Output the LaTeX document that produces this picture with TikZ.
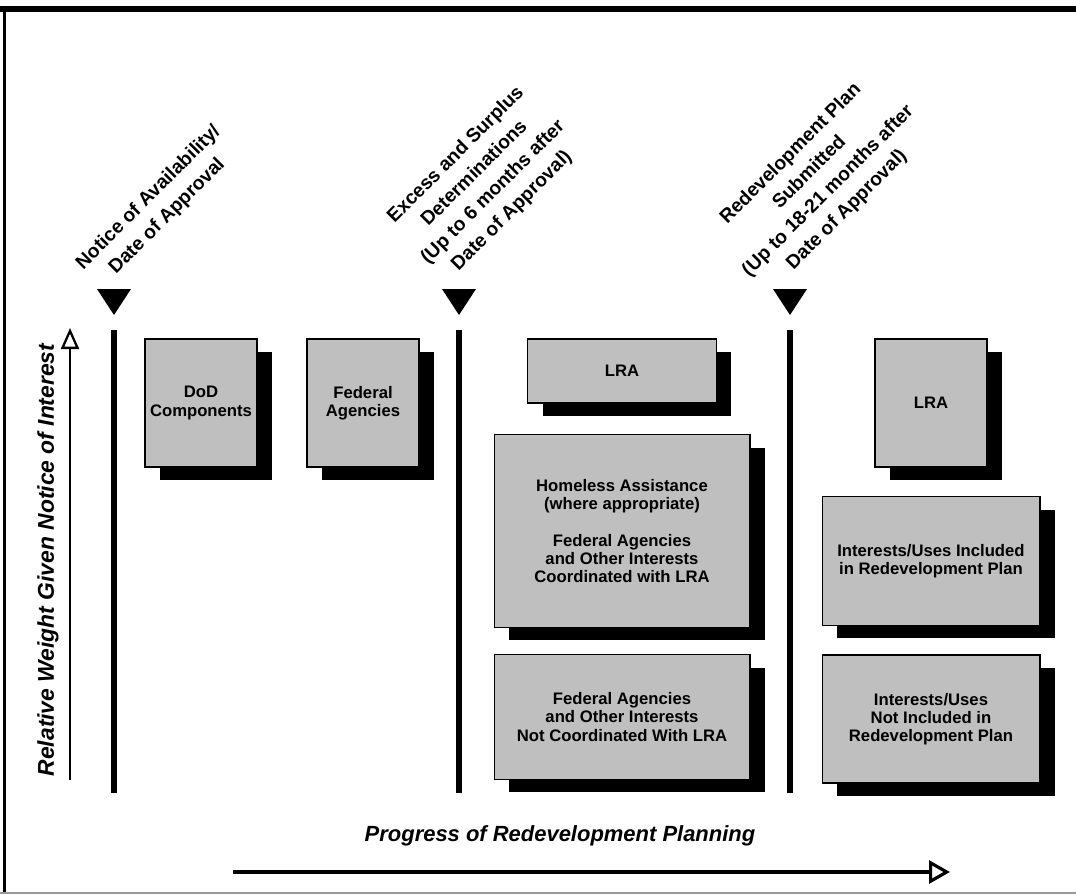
\documentclass[tikz,border=0pt]{standalone}
\usepackage{fontspec}
\setmainfont{Liberation Sans}
\usetikzlibrary{arrows.meta,shadows}

\begin{document}
\begin{tikzpicture}[x=0.02cm,y=-0.02cm,
    plan_box/.style={draw=black,line width=0.6pt,fill=black!25,align=center,inner sep=2pt,
        font=\fontsize{9.5}{10.3}\selectfont\bfseries,
        drop shadow={shadow xshift=0.3cm,shadow yshift=-0.26cm,fill=black,opacity=1}},
    mile_line/.style={line width=3.4pt},
    mile_text/.style={rotate=45,align=center,font=\fontsize{11}{15}\selectfont\bfseries,
        execute at begin node={\setlength{\baselineskip}{15pt}}},
    axis_text/.style={font=\fontsize{12.5}{14}\selectfont\bfseries\itshape}]

    \useasboundingbox (0,0) rectangle (1076,894);

    % frame
    \draw[line width=3.4pt] (0,9) -- (1076,9);
    \draw[line width=2.2pt] (4.5,7) -- (4.5,894);
    \draw[black!40,line width=0.6pt] (0,893) -- (1076,893);

    % milestones
    \foreach \x/\n in {114/1,459/2,790/3} {
        \coordinate (top\n) at (\x,330);
        \coordinate (bot\n) at (\x,793);
        \draw[mile_line] (top\n) -- (bot\n);
        \fill (\x-17,289) -- (\x+17,289) -- (\x,315) -- cycle;
    }

    \node[mile_text] (notice) at (158,207) {Notice of Availability/\\Date of Approval};
    \node[mile_text] (excess) at (484,183) {Excess and Surplus\\Determinations\\(Up to 6 months after\\Date of Approval)};
    \node[mile_text] (submit) at (819,182) {Redevelopment Plan\\Submitted\\(Up to 18-21 months after\\Date of Approval)};

    % interests
    \node[plan_box,minimum width=2.24cm,minimum height=2.56cm] (dod) at (201,403) {DoD\\Components};
    \node[plan_box,minimum width=2.24cm,minimum height=2.56cm] (fed) at (363,403) {Federal\\Agencies};

    \node[plan_box,minimum width=3.78cm,minimum height=1.28cm] (lra1) at (622,371) {LRA};
    \node[plan_box,minimum width=5.12cm,minimum height=3.86cm] (homeless) at (622,531) {Homeless Assistance\\(where appropriate)\\[10.3pt]Federal Agencies\\and Other Interests\\Coordinated with LRA};
    \node[plan_box,minimum width=5.12cm,minimum height=2.5cm] (notcoord) at (622,717) {Federal Agencies\\and Other Interests\\Not Coordinated With LRA};

    \node[plan_box,minimum width=2.24cm,minimum height=2.56cm] (lra2) at (931,403) {LRA};
    \node[plan_box,minimum width=4.36cm,minimum height=2.58cm] (incl) at (931,561) {Interests/Uses Included\\in Redevelopment Plan};
    \node[plan_box,minimum width=4.36cm,minimum height=2.56cm] (notincl) at (931,719) {Interests/Uses\\Not Included in\\Redevelopment Plan};

    % axes
    \coordinate (ybot) at (70,780);
    \coordinate (ytop) at (70,328);
    \draw[line width=1.3pt,-{Triangle[open,length=0.42cm,width=0.36cm]}] (ybot) -- (ytop);
    \node[axis_text,rotate=90,font=\fontsize{13}{15}\selectfont\bfseries\itshape] (weight) at (48,560) {Relative Weight Given Notice of Interest};

    \coordinate (xbeg) at (233,872);
    \coordinate (xend) at (950,872);
    \draw[line width=1.8pt,-{Triangle[open,length=0.42cm,width=0.46cm]}] (xbeg) -- (xend);
    \node[axis_text] (progress) at (560,836) {Progress of Redevelopment Planning};
\end{tikzpicture}
\end{document}
